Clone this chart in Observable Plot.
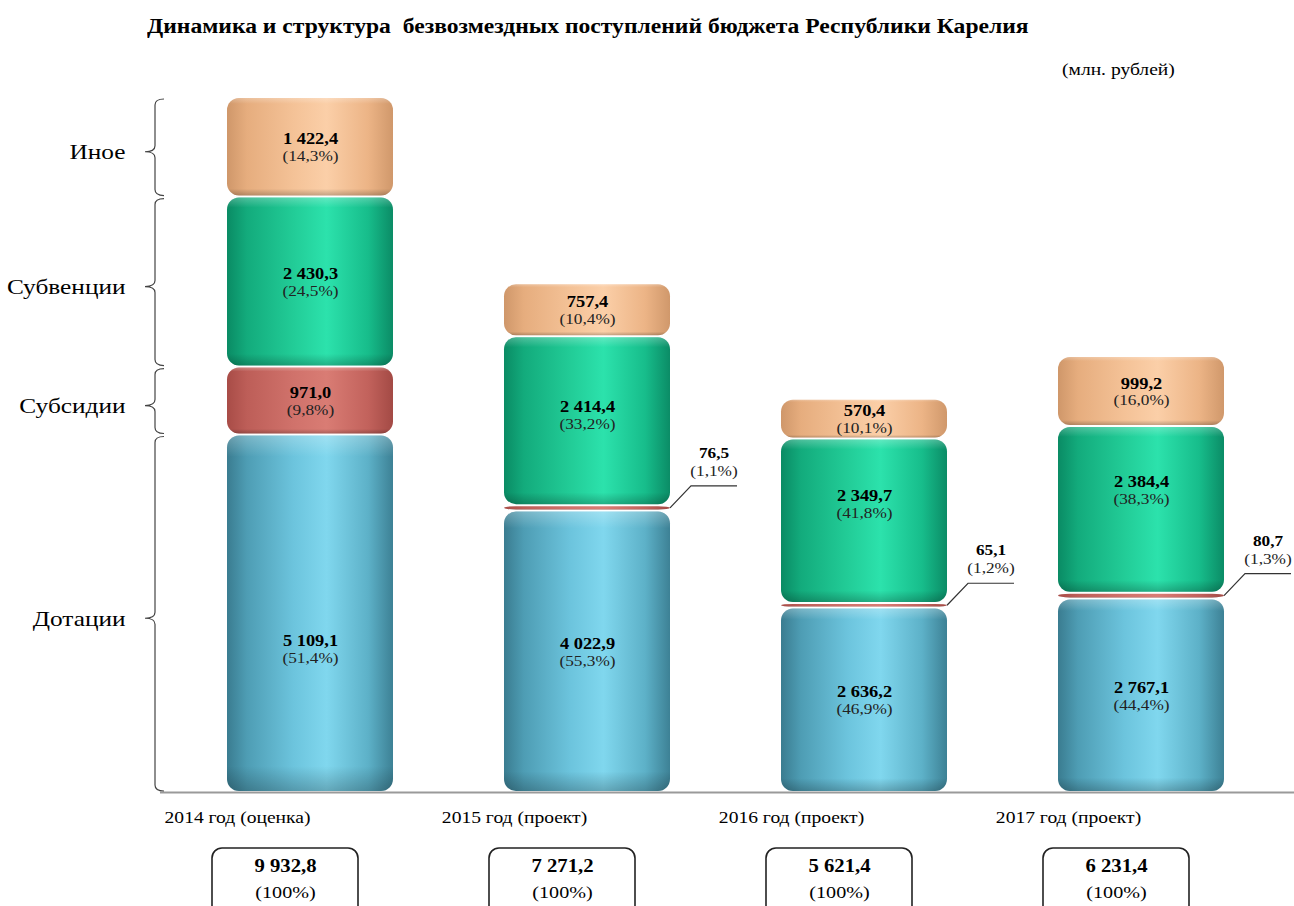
<!DOCTYPE html>
<html><head><meta charset="utf-8">
<script src="https://cdn.jsdelivr.net/npm/d3@7"></script>
<script src="https://cdn.jsdelivr.net/npm/@observablehq/plot@0.6"></script>
<style>
body{margin:0;background:#fff;font-family:"Liberation Serif","Times New Roman",serif;}
#wrap{position:relative;width:1294px;height:906px;overflow:hidden;background:#fff}
#chart{position:absolute;left:0;top:0}
#title{position:absolute;left:147px;top:15px;font-weight:bold;font-size:20px;white-space:pre;color:#000;transform:scaleX(1.18);transform-origin:left center}
#unit{position:absolute;left:1062px;top:60px;font-size:17px;color:#000;transform:scaleX(1.15);transform-origin:left center}
</style></head>
<body><div id="wrap"><div id="chart"></div>
<div id="title">Динамика и структура  безвозмездных поступлений бюджета Республики Карелия</div>
<div id="unit">(млн. рублей)</div></div>
<script>
// ---- data ----
const years = ["2014 год (оценка)", "2015 год (проект)", "2016 год (проект)", "2017 год (проект)"];
const categories = ["Дотации", "Субсидии", "Субвенции", "Иное"];
const dotacii = [5109.1, 4022.9, 2636.2, 2767.1];
const dotaciiPct = [51.4, 55.3, 46.9, 44.4];
const subsidii = [971.0, 76.5, 65.1, 80.7];
const subsidiiPct = [9.8, 1.1, 1.2, 1.3];
const subvencii = [2430.3, 2414.4, 2349.7, 2384.4];
const subvenciiPct = [24.5, 33.2, 41.8, 38.3];
const inoe = [1422.4, 757.4, 570.4, 999.2];
const inoePct = [14.3, 10.4, 10.1, 16.0];
const totals = [9932.8, 7271.2, 5621.4, 6231.4];
const totalPct = [100, 100, 100, 100];

// ---- style tweaks (label nudges in px, not data) ----
const labelNudge = {"2014 год (оценка)|Дотации": 35, "2016 год (проект)|Субвенции": -17, "2017 год (проект)|Субвенции": -20, "2015 год (проект)|Субвенции": -6};
const K = 1.15; // horizontal text stretch

// ---- table ----
const seriesVals = [dotacii, subsidii, subvencii, inoe];
const seriesPct = [dotaciiPct, subsidiiPct, subvenciiPct, inoePct];
const rows = [];
years.forEach((yr, i) => {
  let acc = 0;
  categories.forEach((c, k) => {
    const v = seriesVals[k][i];
    rows.push({year: yr, cat: c, value: v, pct: seriesPct[k][i], y1: acc, y2: acc + v, mid: acc + v / 2});
    acc += v;
  });
});
const totalRows = years.map((yr, i) => ({year: yr, total: totals[i], pct: totalPct[i]}));

const loc = d3.formatLocale({decimal: ",", thousands: "\u00a0", grouping: [3]});
const fv = loc.format(",.1f");
const fp = loc.format(".1f");
const fi = loc.format("d");

const inside = rows.filter(d => d.value > 300);
const small = rows.filter(d => d.value <= 300);
const first = rows.filter(d => d.year === years[0]);

const gradIds = categories.map((c, i) => `grad${i}`);

const insideMarks = inside.flatMap(d => {
  const n = labelNudge[`${d.year}|${d.cat}`] || 0;
  return [
    Plot.text([d], {x: "year", y: "mid", text: d => fv(d.value), fontWeight: "bold", fontSize: 16, dy: -8 + n, fill: "#000"}),
    Plot.text([d], {x: "year", y: "mid", text: d => `(${fp(d.pct)}%)`, fontSize: 15, dy: 9 + n, fill: "#222"})
  ];
});

const plot = Plot.plot({
  width: 1294,
  height: 906,
  marginTop: 97,
  marginBottom: 114,
  marginLeft: 171,
  marginRight: 14,
  style: {fontFamily: "'Liberation Serif', 'Times New Roman', serif", fontSize: "16px", background: "transparent", overflow: "visible"},
  x: {domain: years, paddingInner: 0.399, paddingOuter: 0.2, axis: null},
  y: {domain: [0, totals[0]], axis: null},
  color: {domain: categories, range: gradIds.map(id => `url(#${id})`)},
  marks: [
    Plot.barY(rows, {x: "year", y1: "y1", y2: "y2", fill: "cat", insetTop: 1, insetBottom: 1, rx: 12}),
    Plot.barY(rows, {x: "year", y1: "y1", y2: "y2", fill: "url(#shade)", insetTop: 1, insetBottom: 1, rx: 12}),
    ...insideMarks,
    Plot.text(first, {y: "mid", text: "cat", frameAnchor: "left", textAnchor: "end", dx: -46, dy: 5, fontSize: 22, fill: "#000"}),
    Plot.text(years, {x: d => d, text: d => d, frameAnchor: "bottom", dy: 30, dx: -73, fontSize: 17, fill: "#000"}),
    Plot.text(totalRows, {x: "year", text: d => fv(d.total), frameAnchor: "bottom", dy: 79, dx: -25, fontSize: 18, fontWeight: "bold", fill: "#000"}),
    Plot.text(totalRows, {x: "year", text: d => `(${fi(d.pct)}%)`, frameAnchor: "bottom", dy: 105, dx: -25, fontSize: 17.5, fill: "#000"})
  ]
});

// ---- gradients ----
const svg = d3.select(plot);
const defs = svg.insert("defs", ":first-child");
const palettes = [
  ["#3a7c90", "#4e9db4", "#6cc4dd", "#80d7ee", "#5db1c8", "#3d8195"],
  ["#a84c47", "#bd5e58", "#d0726b", "#d97c74", "#c2625c", "#a34a45"],
  ["#0a8b64", "#13ab7c", "#22cc97", "#2ce2ac", "#17bd8b", "#0b8c66"],
  ["#cf976a", "#e6ad7e", "#f4c297", "#fbcfa8", "#ecb486", "#d0986b"]
];
const offs = [0, 0.12, 0.4, 0.6, 0.85, 1];
palettes.forEach((p, i) => {
  const lg = defs.append("linearGradient").attr("id", gradIds[i]).attr("x1", 0).attr("x2", 1).attr("y1", 0).attr("y2", 0);
  p.forEach((c, j) => lg.append("stop").attr("offset", offs[j]).attr("stop-color", c));
});
const sh = defs.append("linearGradient").attr("id", "shade").attr("x1", 0).attr("x2", 0).attr("y1", 0).attr("y2", 1);
[[0, "#fff", 0.25], [0.06, "#fff", 0], [0.93, "#000", 0], [1, "#000", 0.22]].forEach(([o, c, a]) =>
  sh.append("stop").attr("offset", o).attr("stop-color", c).attr("stop-opacity", a));

// ---- extras drawn with Plot's scales ----
const sx = plot.scale("x"), sy = plot.scale("y");
const bw = sx.bandwidth;
const ex = svg.append("g").attr("fill", "none");

// baseline
ex.append("line").attr("x1", 160).attr("x2", 1294).attr("y1", sy.apply(0) + 0.5).attr("y2", sy.apply(0) + 0.5)
  .attr("stroke", "#9a9a9a").attr("stroke-width", 2);

// braces for first column segments
function brace(top, bottom, xs, tipY) {
  const m = tipY, e = 9, t = 10, r = 6;
  return `M${xs + e},${top} Q${xs},${top} ${xs},${top + r} L${xs},${m - r} Q${xs},${m} ${xs - t},${m} Q${xs},${m} ${xs},${m + r} L${xs},${bottom - r} Q${xs},${bottom} ${xs + e},${bottom}`;
}
first.forEach(d => {
  const top = sy.apply(d.y2) + 2, bot = sy.apply(d.y1) - 1;
  ex.append("path").attr("d", brace(top, bot, 155, Math.min(sy.apply(d.mid) + 5, bot - 10)))
    .attr("stroke", "#444").attr("stroke-width", 1.2);
});

// callouts for thin segments
small.forEach(d => {
  const xr = sx.apply(d.year) + bw;
  const ym = sy.apply(d.mid);
  const x2 = xr + 21, y2 = ym - 22, x3 = x2 + 46;
  ex.append("path").attr("d", `M${xr},${ym} L${x2},${y2} L${x3},${y2}`).attr("stroke", "#333").attr("stroke-width", 1.2);
  const tx = x2 + 23;
  ex.append("text").attr("x", tx).attr("y", y2 - 28).attr("text-anchor", "middle").attr("fill", "#000")
    .attr("font-weight", "bold").attr("font-size", 15).text(fv(d.value));
  ex.append("text").attr("x", tx).attr("y", y2 - 10).attr("text-anchor", "middle").attr("fill", "#222")
    .attr("font-size", 15).text(`(${fp(d.pct)}%)`);
});

// total boxes
totalRows.forEach(d => {
  const cx = sx.apply(d.year) + bw / 2 - 25;
  ex.append("rect").attr("x", cx - 73).attr("y", 848).attr("width", 146).attr("height", 70).attr("rx", 10)
    .attr("stroke", "#222").attr("stroke-width", 1.6).attr("fill", "none");
});

document.getElementById("chart").appendChild(plot);

// horizontal stretch of all texts (glyph scaling keeps anchors in place)
svg.selectAll("text").each(function() {
  const L = this.getComputedTextLength();
  if (L > 0) {
    this.setAttribute("textLength", (L * K).toFixed(2));
    this.setAttribute("lengthAdjust", "spacingAndGlyphs");
  }
});
</script>
</body></html>
